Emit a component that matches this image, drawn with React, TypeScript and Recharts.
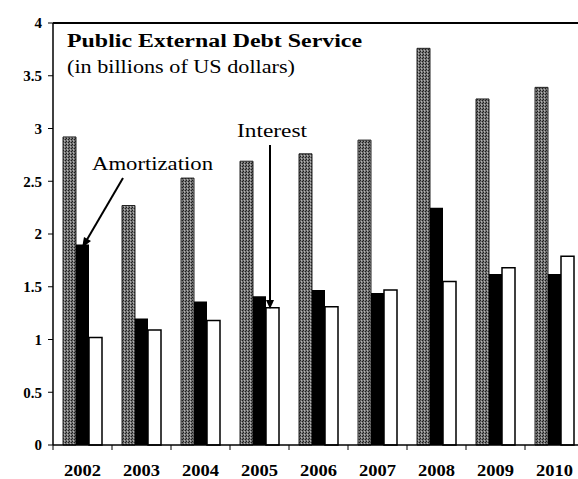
import { BarChart, Bar, XAxis, YAxis, ReferenceLine } from "recharts"

const years = ["2002", "2003", "2004", "2005", "2006", "2007", "2008", "2009", "2010"]
const total = [2.92, 2.27, 2.53, 2.69, 2.76, 2.89, 3.76, 3.28, 3.39]
const amortization = [1.9, 1.2, 1.36, 1.41, 1.47, 1.44, 2.25, 1.62, 1.62]
const interest = [1.02, 1.09, 1.18, 1.3, 1.31, 1.47, 1.55, 1.68, 1.79]
const yTicks = [0, 0.5, 1, 1.5, 2, 2.5, 3, 3.5, 4]

const data = years.map((year, i) => ({
  year,
  total: total[i],
  amortization: amortization[i],
  interest: interest[i],
}))

const font = "'Liberation Serif', 'Times New Roman', serif"

function XTick(props: any) {
  const { x, y, payload } = props
  const half = payload?.offset ?? 29.5
  return (
    <g>
      <line x1={x - half} x2={x - half} y1={y - 8} y2={y - 3} stroke="#000" />
      <text x={x} y={y + 23} textAnchor="middle" fontFamily={font} fontWeight="bold" fontSize={16} textLength={37} lengthAdjust="spacingAndGlyphs" fill="#000">
        {payload.value}
      </text>
    </g>
  )
}

export default function App() {
  return (
    <div style={{ position: "absolute", left: 0, top: 0, width: 578, height: 479, overflow: "hidden", background: "#fff" }}>
      <svg width="0" height="0" style={{ position: "absolute" }}>
        <defs>
          <pattern id="grayHatch" width="3" height="3" patternUnits="userSpaceOnUse">
            <rect width="3" height="3" fill="#6f6f6f" />
            <rect x="0" y="0" width="1" height="1" fill="#1e1e1e" />
            <rect x="2" y="1" width="1" height="1" fill="#1e1e1e" />
            <rect x="1" y="2" width="1" height="1" fill="#b4b4b4" />
            <rect x="1" y="0" width="1" height="1" fill="#999" />
          </pattern>
        </defs>
      </svg>
      <BarChart
        width={584}
        height={479}
        data={data}
        margin={{ top: 23, right: 0, bottom: 0, left: 0 }}
        barCategoryGap={10}
        barGap={0}
      >
        <XAxis
          dataKey="year"
          height={34}
          axisLine={{ stroke: "#000", strokeWidth: 1.5 }}
          tickLine={false}
          tick={<XTick />}
          interval={0}
        />
        <YAxis
          width={53}
          domain={[0, 4]}
          ticks={yTicks}
          interval={0}
          axisLine={{ stroke: "#000", strokeWidth: 1.5 }}
          tickLine={{ stroke: "#000" }}
          tickSize={5}
          tickMargin={6}
          tick={{ fill: "#000", fontFamily: font, fontWeight: "bold", fontSize: 15 }}
        />
        <ReferenceLine y={4} stroke="#000" strokeWidth={2} />
        <Bar dataKey="total" fill="url(#grayHatch)" stroke="#222" strokeWidth={1} isAnimationActive={false} />
        <Bar dataKey="amortization" fill="#000" isAnimationActive={false} />
        <Bar dataKey="interest" fill="#fff" stroke="#000" strokeWidth={1.5} isAnimationActive={false} />
      </BarChart>
      <svg width={578} height={479} style={{ position: "absolute", left: 0, top: 0, pointerEvents: "none" }}>
        <text x={67} y={47} fontFamily={font} fontWeight="bold" fontSize={18} textLength={295} lengthAdjust="spacingAndGlyphs" fill="#000">
          Public External Debt Service
        </text>
        <text x={67} y={73} fontFamily={font} fontSize={18} textLength={228} lengthAdjust="spacingAndGlyphs" fill="#000">
          (in billions of US dollars)
        </text>
        <text x={92} y={170} fontFamily={font} fontSize={18} textLength={121} lengthAdjust="spacingAndGlyphs" fill="#000">
          Amortization
        </text>
        <text x={237} y={137} fontFamily={font} fontSize={18} textLength={70} lengthAdjust="spacingAndGlyphs" fill="#000">
          Interest
        </text>
        <line x1={123} y1={178} x2={85} y2={243} stroke="#000" strokeWidth={2} />
        <polygon points="82,248 84,237 91,241" fill="#000" />
        <line x1={270} y1={145} x2={270} y2={304} stroke="#000" strokeWidth={2} />
        <polygon points="270,309 266,300 274,300" fill="#000" />
      </svg>
    </div>
  )
}
